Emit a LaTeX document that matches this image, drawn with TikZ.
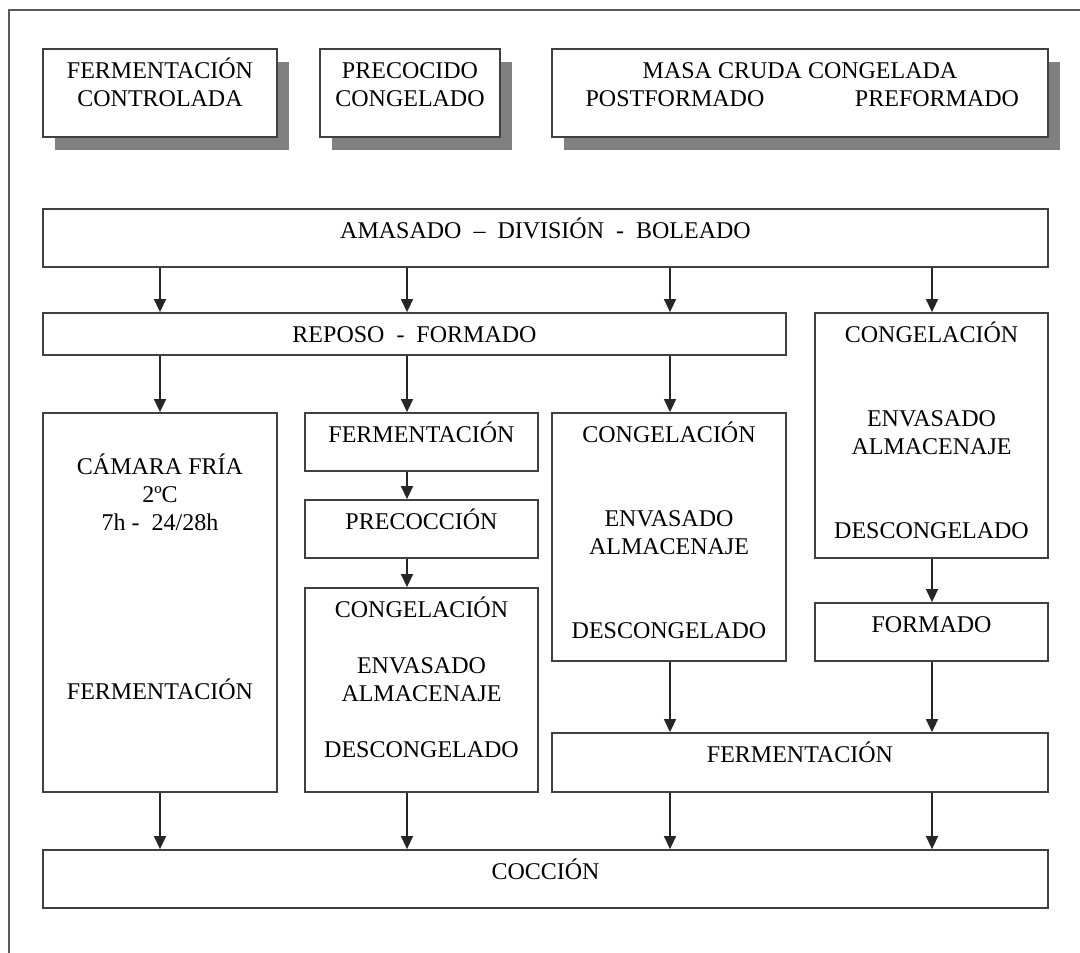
\documentclass[tikz,border=0pt]{standalone}
\usepackage{fontspec}
\setmainfont{Liberation Serif}
\usetikzlibrary{arrows.meta,fit,shadows}

\newcommand{\lineas}[1]{\begin{tabular}[t]{@{}c@{}}#1\end{tabular}}

\tikzset{
  caja/.style={draw=black!75, line width=0.9pt, fill=white, inner sep=0pt},
  sombra/.style={drop shadow={shadow xshift=6pt, shadow yshift=-6.5pt, fill=black!50, opacity=1}},
  rotulo/.style={anchor=base, inner sep=0pt, font=\fontsize{12}{14}\selectfont},
  flecha/.style={draw=black!85, line width=0.75pt, -{Triangle[width=6pt,length=6.5pt]}},
  marco/.style={draw=black!65, line width=1.3pt}
}

\begin{document}
\begin{tikzpicture}[x=0.5pt, y=-0.5pt]
    \useasboundingbox (0,0) rectangle (1080,952);
    \clip (0,0) rectangle (1080,952);
    \draw[marco] (9,10) rectangle (1120,990);
    \coordinate (xa) at (160,0);
    \coordinate (xb) at (407,0);
    \coordinate (xc) at (670,0);
    \coordinate (xd) at (932,0);

    \node[caja, sombra, fit={(43,49) (277,137)}] (ctrl) {};
    \node[caja, sombra, fit={(320,49) (500,137)}] (prec) {};
    \node[caja, sombra, fit={(552,49) (1048,137)}] (masa) {};
    \node[rotulo] (t-ctrl) at ([yshift=-15pt]ctrl.north) {\lineas{FERMENTACIÓN\\CONTROLADA}};
    \node[rotulo] (t-prec) at ([yshift=-15pt]prec.north) {\lineas{PRECOCIDO\\CONGELADO}};
    \node[rotulo] (t-masa) at ([yshift=-15pt]masa.north) {MASA CRUDA CONGELADA};
    \node[rotulo] (t-post) at ([yshift=-14pt]t-masa.base -| 675,0) {POSTFORMADO};
    \node[rotulo] (t-pre) at ([yshift=-14pt]t-masa.base -| 937,0) {PREFORMADO};

    \node[caja, fit={(43,209) (1048,267)}] (amasado) {};
    \node[caja, fit={(43,313) (786,355)}] (reposo) {};
    \node[caja, fit={(815,313) (1048,558)}] (dcong) {};
    \node[caja, fit={(43,413) (277,792)}] (camara) {};
    \node[caja, fit={(305,413) (538,471)}] (bferm) {};
    \node[caja, fit={(305,500) (538,558)}] (precoc) {};
    \node[caja, fit={(305,588) (538,792)}] (bcong) {};
    \node[caja, fit={(552,413) (786,661)}] (ccong) {};
    \node[caja, fit={(815,603) (1048,661)}] (formado) {};
    \node[caja, fit={(552,733) (1048,792)}] (fermfin) {};
    \node[caja, fit={(43,850) (1048,908)}] (coccion) {};

    \node[rotulo] (t-amasado) at ([yshift=-15pt]amasado.north) {AMASADO \ – \ DIVISIÓN \ - \ BOLEADO};
    \node[rotulo] (t-reposo) at ([yshift=-15pt]reposo.north) {REPOSO \ - \ FORMADO};
    \node[rotulo] (t-dcong) at ([yshift=-15pt]dcong.north) {\lineas{CONGELACIÓN\\[28pt]ENVASADO\\ALMACENAJE\\[28pt]DESCONGELADO}};
    \node[rotulo] (t-camara) at ([yshift=-31pt]camara.north) {\lineas{CÁMARA FRÍA\\2ºC\\7h - \ 24/28h\\[70pt]FERMENTACIÓN}};
    \node[rotulo] (t-bferm) at ([yshift=-15pt]bferm.north) {FERMENTACIÓN};
    \node[rotulo] (t-precoc) at ([yshift=-15pt]precoc.north) {PRECOCCIÓN};
    \node[rotulo] (t-bcong) at ([yshift=-15pt]bcong.north) {\lineas{CONGELACIÓN\\[14pt]ENVASADO\\ALMACENAJE\\[14pt]DESCONGELADO}};
    \node[rotulo] (t-ccong) at ([yshift=-15pt]ccong.north) {\lineas{CONGELACIÓN\\[28pt]ENVASADO\\ALMACENAJE\\[28pt]DESCONGELADO}};
    \node[rotulo] (t-formado) at ([yshift=-15pt]formado.north) {FORMADO};
    \node[rotulo] (t-fermfin) at ([yshift=-15pt]fermfin.north) {FERMENTACIÓN};
    \node[rotulo] (t-coccion) at ([yshift=-15pt]coccion.north) {COCCIÓN};

    \draw[flecha] (amasado.south -| xa) -- (reposo.north -| xa);
    \draw[flecha] (amasado.south -| xb) -- (reposo.north -| xb);
    \draw[flecha] (amasado.south -| xc) -- (reposo.north -| xc);
    \draw[flecha] (amasado.south -| xd) -- (dcong.north -| xd);
    \draw[flecha] (reposo.south -| xa) -- (camara.north -| xa);
    \draw[flecha] (reposo.south -| xb) -- (bferm.north -| xb);
    \draw[flecha] (reposo.south -| xc) -- (ccong.north -| xc);
    \draw[flecha] (bferm.south -| xb) -- (precoc.north -| xb);
    \draw[flecha] (precoc.south -| xb) -- (bcong.north -| xb);
    \draw[flecha] (dcong.south -| xd) -- (formado.north -| xd);
    \draw[flecha] (ccong.south -| xc) -- (fermfin.north -| xc);
    \draw[flecha] (formado.south -| xd) -- (fermfin.north -| xd);
    \draw[flecha] (camara.south -| xa) -- (coccion.north -| xa);
    \draw[flecha] (bcong.south -| xb) -- (coccion.north -| xb);
    \draw[flecha] (fermfin.south -| xc) -- (coccion.north -| xc);
    \draw[flecha] (fermfin.south -| xd) -- (coccion.north -| xd);
\end{tikzpicture}
\end{document}
